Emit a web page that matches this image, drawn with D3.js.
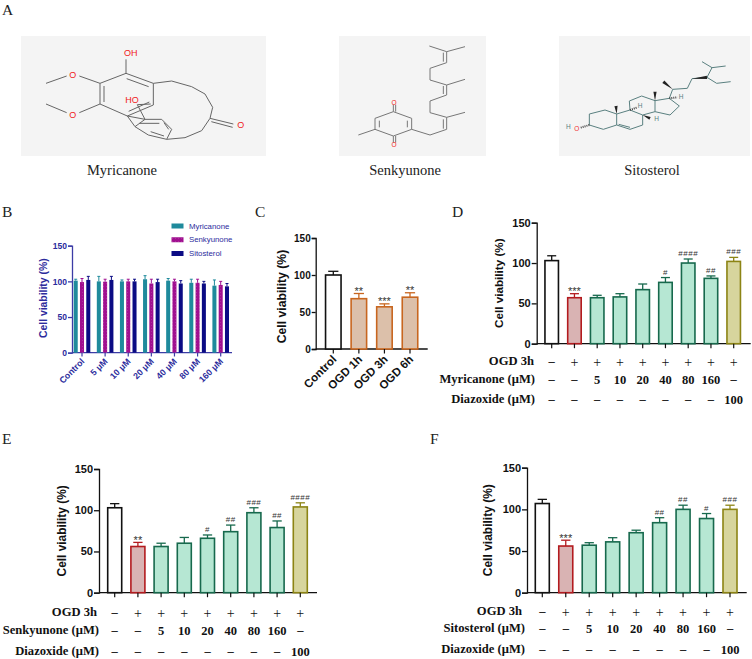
<!DOCTYPE html>
<html>
  <head>
    <meta charset="UTF-8">
    <script src="https://cdn.jsdelivr.net/npm/d3@7"></script>
    <title>Cell viability</title>
    <style>
      html, body { margin: 0; padding: 0; background: #fff; }
      svg { display: block; }
      text { font-family: "Liberation Sans", Arial, sans-serif; }
      .serif { font-family: "Liberation Serif", "Times New Roman", serif; }
    </style>
  </head>
  <body>
    <svg id="fig" width="752" height="659"></svg>
  <script>
      // panel B
      var doseLabels = ["Control", "5 μM", "10 μM", "20 μM", "40 μM", "80 μM", "160 μM"];
      var compounds = ["Myricanone", "Senkyunone", "Sitosterol"];
      var myricanoneMean = [101, 100, 100, 103, 101, 98, 94];
      var myricanoneTop = [103, 107, 102, 108, 104, 103, 102];
      var senkyunoneMean = [99, 99.5, 100, 97, 100, 98, 95];
      var senkyunoneTop = [104, 103, 103, 103, 103, 103, 100];
      var sitosterolMean = [102, 102, 100, 99, 97, 97, 93];
      var sitosterolTop = [107, 107, 103, 103, 101, 100, 97];

      // panel C
      var ogdLabels = ["Control", "OGD 1h", "OGD 3h", "OGD 6h"];
      var ogdMean = [100, 68, 57, 70];
      var ogdTop = [105, 75, 61, 76];
      var ogdStars = ["", "**", "***", "**"];

      // panels D, E, F
      var rowOgd = ["-", "+", "+", "+", "+", "+", "+", "+", "+"];
      var rowDose = ["-", "-", "5", "10", "20", "40", "80", "160", "-"];
      var rowDiazoxide = ["-", "-", "-", "-", "-", "-", "-", "-", "100"];

      var dMean = [103, 57, 57, 58, 67, 76, 100, 81, 102];
      var dTop = [109, 62, 60, 62, 74, 82, 105, 84, 107];
      var dStars = ["", "***", "", "", "", "#", "####", "##", "###"];

      var eMean = [103, 56, 56, 60, 66, 74, 97, 79, 104];
      var eTop = [108, 61, 60, 67, 70, 82, 103, 87, 109];
      var eStars = ["", "**", "", "", "#", "##", "###", "##", "####"];

      var fMean = [107, 56, 57, 61, 72, 84, 100, 89, 100];
      var fTop = [112, 63, 60, 66, 75, 90, 105, 95, 105];
      var fStars = ["", "***", "", "", "", "##", "##", "#", "###"];

      var viabilityTicks = [0, 50, 100, 150];

      // structure drawings, in pixels of a 3x crop of each grey box
      var myricanoneBonds = [
        [[318,130],[400,160],[400,225],[322,258],[240,222],[240,160],[318,130]],
        [[320,146],[386,170]], [[252,168],[252,216]], [[326,244],[388,216]],
        [[318,130],[318,88]],
        [[240,160],[178,138]], [[140,138],[78,160]],
        [[240,222],[178,248]], [[140,248],[78,222]],
        [[400,160],[455,153],[515,170],[555,192],[578,232],[570,265],[545,302],[495,323],[440,328]],
        [[570,265],[640,282]], [[574,275],[638,292]],
        [[375,268],[425,268],[455,298],[440,328],[385,315],[345,290],[375,268]],
        [[358,280],[418,280]], [[432,278],[446,298]], [[392,305],[432,318]],
        [[322,258],[345,290]], [[322,258],[375,268]], [[352,224],[375,268]], [[352,224],[392,222]]
      ];
      var myricanoneAtoms = [["OH",332,70],["O",158,134],["O",158,254],["HO",336,211],["O",662,286]];

      var senkyunoneBonds = [
        [[190,245],[245,265],[245,298],[190,318],[135,298],[135,265],[190,245]],
        [[148,272],[148,292]], [[232,272],[232,292]],
        [[190,245],[190,224]], [[197,245],[197,224]], [[190,318],[190,338]], [[197,318],[197,338]],
        [[135,298],[85,315]],
        [[245,298],[300,315],[350,298],[350,262],[405,247]],
        [[340,296],[340,268]],
        [[350,262],[300,248],[300,213],[350,195],[350,165],[405,148]],
        [[340,192],[340,168]],
        [[350,165],[300,150],[300,115],[350,98],[350,65],[405,50]],
        [[340,95],[340,68]],
        [[350,65],[298,48]]
      ];
      var senkyunoneAtoms = [["O",192,217],["O",192,345]];

      var sitosterolBonds = [
        [[118,252],[165,240],[200,252],[200,285],[160,298],[118,285],[118,252]],
        [[200,252],[240,240],[278,255],[278,285],[240,298],[200,285]],
        [[206,283],[240,292]],
        [[240,240],[238,213],[275,198],[315,212],[315,245],[278,255]],
        [[315,212],[358,205],[388,228],[360,255],[315,245]],
        [[358,205],[368,178],[412,175],[426,146]],
        [[426,146],[471,142]],
        [[471,142],[486,113],[456,95]], [[486,113],[527,108]],
        [[471,142],[500,160],[542,155]]
      ];
      var sitosterolWedges = [
        [[200,252],[198,228]], [[315,212],[315,185]], [[368,178],[340,155]],
        [[426,146],[471,142]], [[278,255],[300,265]]
      ];
      var sitosterolDashes = [
        [[118,285],[92,293]], [[240,240],[262,232]], [[358,205],[382,202]]
      ];
      var sitosterolAtoms = [["H",55,290,"#5a8080"],["O",80,296,"#f03030"],["H",270,228,"#5a8080"],
        ["H",320,265,"#5a8080"],["H",393,200,"#5a8080"]];

      var svg = d3.select("#fig");
      var ink = "#111";

      function panelLetter(t, x, y){
        svg.append("text").attr("class", "serif").attr("x", x).attr("y", y)
          .attr("font-size", 15.5).attr("fill", "#222").text(t);
      }

      function caption(t, x){
        svg.append("text").attr("class", "serif").attr("x", x).attr("y", 175)
          .attr("text-anchor", "middle").attr("font-size", 14.5).attr("fill", "#222").text(t);
      }

      function molecule(ox, oy, bonds, atoms, color){
        var g = svg.append("g");
        var line = d3.line().x(function(p){ return ox + p[0] / 3; }).y(function(p){ return oy + p[1] / 3; });
        g.selectAll("path").data(bonds).enter().append("path")
          .attr("d", line).attr("fill", "none").attr("stroke", color).attr("stroke-width", 1);
        g.selectAll("text").data(atoms).enter().append("text")
          .attr("x", function(a){ return ox + a[1] / 3; })
          .attr("y", function(a){ return oy + a[2] / 3; })
          .attr("dy", ".35em").attr("text-anchor", "middle").attr("font-size", atoms.length > 2 && atoms[0][0] == "OH" ? 9 : 6.5)
          .attr("fill", function(a){ return a[3] || "#f02020"; })
          .text(function(a){ return a[0]; });
        return g;
      }

      // y axis + baseline shared by every chart
      function chartFrame(o){
        var y = d3.scaleLinear().domain([0, 150]).range([o.y0, o.y150]);
        var g = svg.append("g");
        var color = o.axisColor || ink;
        var ax = g.append("g").attr("transform", "translate(" + o.axisX + ",0)")
          .call(d3.axisLeft(y).tickValues(viabilityTicks).tickSize(o.tickLen || 5).tickPadding(1));
        ax.selectAll("text").attr("font-size", o.tickFont).attr("font-weight", "bold").attr("fill", o.textColor || ink);
        ax.selectAll("line,path").attr("stroke", color).attr("stroke-width", 1.3);
        g.append("line").attr("x1", o.axisX).attr("x2", o.xEnd).attr("y1", o.y0).attr("y2", o.y0)
          .attr("stroke", color).attr("stroke-width", 1.3);
        g.append("text")
          .attr("transform", "translate(" + o.labelX + "," + ((o.y0 + o.y150) / 2 + (o.labelShift || 0)) + ") rotate(-90)")
          .attr("text-anchor", "middle").attr("font-size", o.labelFont).attr("font-weight", "bold")
          .attr("fill", o.textColor || ink).text("Cell viability (%)");
        return {g: g, y: y};
      }

      function barSeries(f, x, means, tops, stars, style, w){
        var y = f.y;
        means.forEach(function(m, i){
          var s = style(i);
          var cx = x(i);
          f.g.append("line").attr("x1", cx).attr("x2", cx).attr("y1", y(m)).attr("y2", y(tops[i]))
            .attr("stroke", s[0]).attr("stroke-width", 1.3);
          f.g.append("line").attr("x1", cx - w * 0.3).attr("x2", cx + w * 0.3).attr("y1", y(tops[i])).attr("y2", y(tops[i]))
            .attr("stroke", s[0]).attr("stroke-width", 1.3);
          f.g.append("rect").attr("x", cx - w / 2 + 0.75).attr("width", w - 1.5)
            .attr("y", y(m)).attr("height", y(0) - y(m))
            .attr("fill", s[1]).attr("stroke", s[0]).attr("stroke-width", 1.6);
          // tick under each bar
          f.g.append("line").attr("x1", cx).attr("x2", cx).attr("y1", y(0)).attr("y2", y(0) + 4.5)
            .attr("stroke", ink).attr("stroke-width", 1.2);
          if(stars[i]){
            var isStar = stars[i][0] == "*";
            f.g.append("text").attr("x", cx).attr("y", y(tops[i]) + (isStar ? 1.5 : -3))
              .attr("text-anchor", "middle").attr("font-size", isStar ? 11 : 8)
              .attr("fill", "#333").attr("letter-spacing", isStar ? 0 : 0.5).text(stars[i]);
          }
        });
      }

      function treatmentStyle(i){
        if(i == 0) return [ink, "#fff"];
        if(i == 1) return ["#b31b1f", "#d9b3b3"];
        if(i == 8) return ["#8c8414", "#d7d59d"];
        return ["#17694d", "#b6e7d3"];
      }

      function treatmentPanel(o, means, tops, stars, doseName){
        var f = chartFrame(o);
        var x = d3.scaleLinear().domain([0, 8]).range([o.first, o.last]);
        barSeries(f, x, means, tops, stars, treatmentStyle, o.barW);

        var rowNames = ["OGD 3h", doseName + " (μM)", "Diazoxide (μM)"];
        var rows = [rowOgd, rowDose, rowDiazoxide];
        rows.forEach(function(row, r){
          svg.append("text").attr("class", "serif").attr("x", o.rowRight[r]).attr("y", o.rowY[r])
            .attr("dy", ".35em").attr("text-anchor", "end").attr("font-size", 12.6)
            .attr("font-weight", "bold").attr("fill", "#111").text(rowNames[r]);
          row.forEach(function(v, i){
            var isPlus = v == "+", isDash = v == "-";
            svg.append("text").attr("class", "serif").attr("x", x(i))
              .attr("y", o.rowY[r] + (isDash ? 0 : 1)).attr("dy", ".35em").attr("text-anchor", "middle")
              .attr("font-size", isPlus ? 14 : 12.5).attr("font-weight", isPlus ? "normal" : "bold")
              .attr("fill", "#111").text(isDash ? "–" : v);
          });
        });
      }

      // A
      panelLetter("A", 2, 15);
      var boxes = [[21, 36, 245, 120], [339, 36, 147, 120], [559, 36, 191, 120]];
      svg.selectAll("rect.box").data(boxes).enter().append("rect").attr("class", "box")
        .attr("x", function(b){ return b[0]; }).attr("y", function(b){ return b[1]; })
        .attr("width", function(b){ return b[2]; }).attr("height", function(b){ return b[3]; })
        .attr("fill", "#f4f4f4");
      molecule(20, 30, myricanoneBonds, myricanoneAtoms, "#666");
      molecule(330, 30, senkyunoneBonds, senkyunoneAtoms, "#777");
      var sito = molecule(550, 30, sitosterolBonds, sitosterolAtoms, "#5a8080");
      sito.selectAll("path.w").data(sitosterolWedges).enter().append("path").attr("class", "w")
        .attr("d", function(w){
          var a = [550 + w[0][0] / 3, 30 + w[0][1] / 3], b = [550 + w[1][0] / 3, 30 + w[1][1] / 3];
          var dx = b[0] - a[0], dy = b[1] - a[1], n = Math.sqrt(dx * dx + dy * dy);
          var px = -dy / n * 1.6, py = dx / n * 1.6;
          return "M" + a + "L" + [b[0] + px, b[1] + py] + "L" + [b[0] - px, b[1] - py] + "Z";
        }).attr("fill", "#222");
      sito.selectAll("line.d").data(sitosterolDashes).enter().append("line").attr("class", "d")
        .attr("x1", function(w){ return 550 + w[0][0] / 3; }).attr("y1", function(w){ return 30 + w[0][1] / 3; })
        .attr("x2", function(w){ return 550 + w[1][0] / 3; }).attr("y2", function(w){ return 30 + w[1][1] / 3; })
        .attr("stroke", "#444").attr("stroke-width", 2).attr("stroke-dasharray", "1 1");
      caption("Myricanone", 122);
      caption("Senkyunone", 405);
      caption("Sitosterol", 652);

      // B
      panelLetter("B", 2, 217);
      var bText = "#2b2b9c";
      var bFrame = chartFrame({y0: 352.7, y150: 245.7, axisX: 72, xEnd: 232, tickFont: 8.5, labelFont: 10.4,
        labelX: 47, labelShift: -1, tickLen: 4, axisColor: "#3c3ca6", textColor: bText});
      var defs = svg.append("defs");
      var dots = defs.append("pattern").attr("id", "dots").attr("width", 3).attr("height", 3)
        .attr("patternUnits", "userSpaceOnUse");
      dots.append("rect").attr("width", 3).attr("height", 3).attr("fill", "#a01090");
      dots.append("circle").attr("cx", 1.5).attr("cy", 1.5).attr("r", 0.45).attr("fill", "#c050b0");
      var bColors = ["#1f8a9c", "#a01090", "#0b0b84"];
      var bFills = ["#1f8a9c", "url(#dots)", "#0b0b84"];
      var bMeans = [myricanoneMean, senkyunoneMean, sitosterolMean];
      var bTops = [myricanoneTop, senkyunoneTop, sitosterolTop];
      var bGroup = d3.scalePoint().domain(doseLabels).range([82, 220.7]);
      var bInner = d3.scaleBand().domain(compounds).range([-8.3, 8.3]).paddingInner(0.36);
      compounds.forEach(function(c, k){
        bMeans[k].forEach(function(m, i){
          var cx = bGroup(doseLabels[i]) + bInner(c) + bInner.bandwidth() / 2;
          bFrame.g.append("line").attr("x1", cx).attr("x2", cx).attr("y1", bFrame.y(m)).attr("y2", bFrame.y(bTops[k][i]))
            .attr("stroke", bColors[k]).attr("stroke-width", 1);
          bFrame.g.append("line").attr("x1", cx - 1.5).attr("x2", cx + 1.5).attr("y1", bFrame.y(bTops[k][i])).attr("y2", bFrame.y(bTops[k][i]))
            .attr("stroke", bColors[k]).attr("stroke-width", 1);
          bFrame.g.append("rect").attr("x", cx - bInner.bandwidth() / 2).attr("width", bInner.bandwidth())
            .attr("y", bFrame.y(m)).attr("height", bFrame.y(0) - bFrame.y(m)).attr("fill", bFills[k]);
        });
      });
      doseLabels.forEach(function(d){
        var cx = bGroup(d);
        bFrame.g.append("line").attr("x1", cx).attr("x2", cx).attr("y1", 352.7).attr("y2", 356.5)
          .attr("stroke", "#3c3ca6").attr("stroke-width", 1.2);
        bFrame.g.append("text").attr("transform", "translate(" + (cx + 3) + ",362) rotate(-45)")
          .attr("text-anchor", "end").attr("font-size", 8.8).attr("font-weight", "bold").attr("fill", bText).text(d);
      });
      var legY = d3.scalePoint().domain(compounds).range([226, 253.5]);
      compounds.forEach(function(c, k){
        svg.append("rect").attr("x", 171.5).attr("y", legY(c) - 2.5).attr("width", 12).attr("height", 5).attr("fill", bFills[k]);
        svg.append("text").attr("x", 189).attr("y", legY(c)).attr("dy", ".35em")
          .attr("font-size", 7.8).attr("fill", bText).text(c);
      });

      // C
      panelLetter("C", 255, 217);
      var cFrame = chartFrame({y0: 349, y150: 238, axisX: 315.7, xEnd: 427.7, tickFont: 10, labelFont: 12.2,
        labelX: 286, labelShift: 3, tickLen: 4});
      var cX = d3.scaleLinear().domain([0, 3]).range([333.3, 410]);
      barSeries(cFrame, cX, ogdMean, ogdTop, ogdStars, function(i){
        return i == 0 ? [ink, "#fff"] : ["#c8661f", "#dcc0aa"];
      }, 17);
      ogdLabels.forEach(function(t, i){
        svg.append("text").attr("transform", "translate(" + (cX(i) + 4) + ",360) rotate(-45)")
          .attr("text-anchor", "end").attr("font-size", 11.5).attr("font-weight", "bold").attr("fill", ink).text(t);
      });

      // D
      panelLetter("D", 452, 217);
      treatmentPanel({y0: 343.7, y150: 222.7, axisX: 536.7, xEnd: 750.7, tickFont: 11, labelFont: 11.7, labelX: 503,
        first: 551.7, last: 733.7, barW: 15, rowY: [361, 379, 399], rowRight: [534, 535, 535]},
        dMean, dTop, dStars, "Myricanone");

      // E
      panelLetter("E", 2, 444);
      treatmentPanel({y0: 592.7, y150: 469, axisX: 99, xEnd: 317, tickFont: 11, labelFont: 11.9, labelX: 66,
        first: 114.7, last: 300.3, barW: 15.5, rowY: [612, 630, 650.5], rowRight: [97, 99, 99]},
        eMean, eTop, eStars, "Senkyunone");

      // F
      panelLetter("F", 430, 444);
      treatmentPanel({y0: 592.7, y150: 467.7, axisX: 527, xEnd: 746.7, tickFont: 11, labelFont: 12, labelX: 492,
        first: 542.3, last: 730, barW: 15.5, rowY: [611, 628, 649], rowRight: [522, 525, 525]},
        fMean, fTop, fStars, "Sitosterol");
  </script>
  </body>
</html>
